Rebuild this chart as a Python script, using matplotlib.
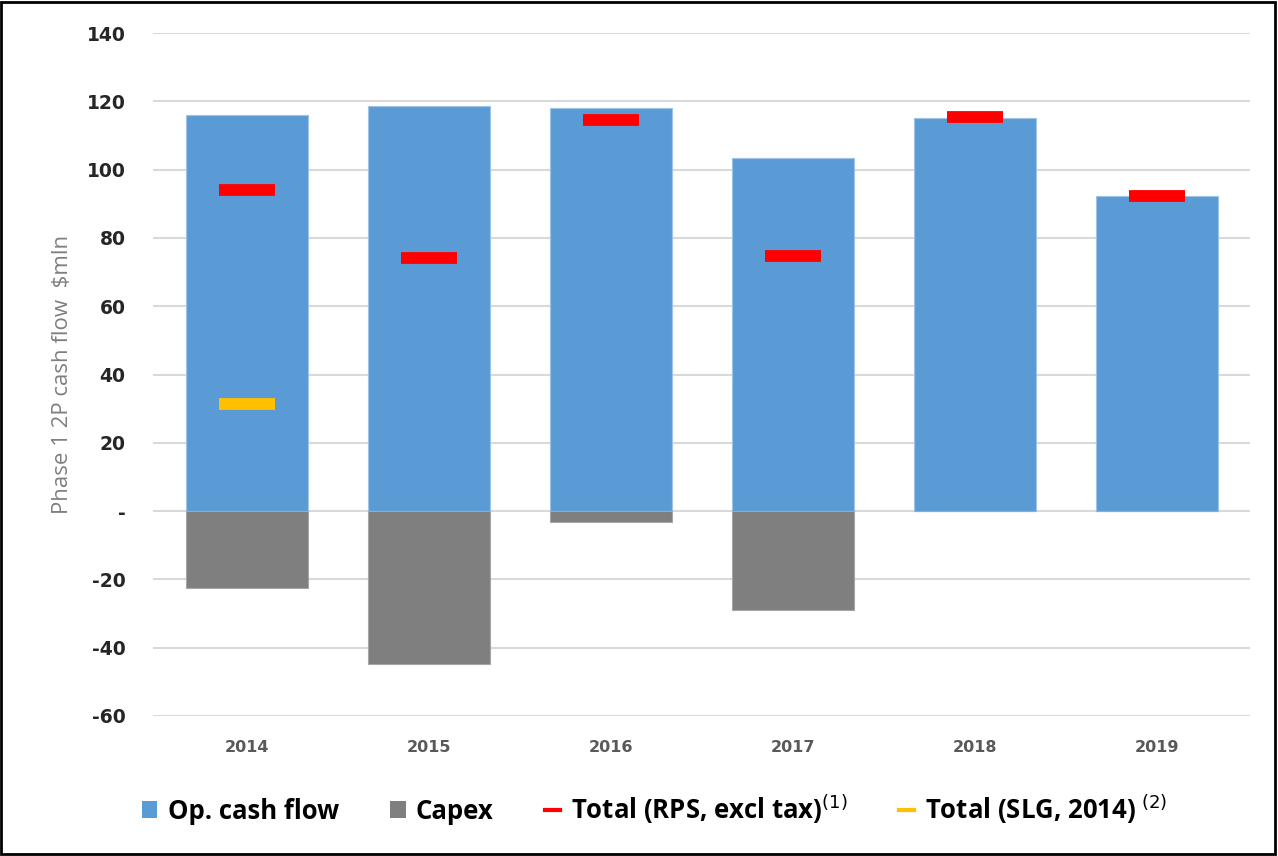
import numpy as np
import matplotlib
matplotlib.use('Agg')
from matplotlib import pyplot as plt
from matplotlib.lines import Line2D
from matplotlib.patches import Patch, Rectangle

years = ['2014', '2015', '2016', '2017', '2018', '2019']
op_cash_flow = [116.0, 118.6, 118.0, 103.4, 115.0, 92.2]
capex = [-22.5, -44.8, -3.2, -29.0, 0.0, 0.0]
total_rps = [94.0, 74.0, 114.5, 74.7, 115.4, 92.2]
total_slg = [31.3, None, None, None, None, None]
y_ticks = [-60, -40, -20, 0, 20, 40, 60, 80, 100, 120, 140]
y_tick_labels = ['-60', '-40', '-20', '-', '20', '40', '60', '80', '100', '120', '140']

blue = '#5b9bd5'
grey = '#7f7f7f'

fig = plt.figure(figsize=(12.78, 8.56), dpi=100)
ax = fig.add_axes([0.12, 0.1636, 0.858, 0.7978])

x = np.arange(len(years))
ax.bar(x, op_cash_flow, width=0.67, color=blue, edgecolor='#9dc3e6', linewidth=0.8, zorder=2)
ax.bar(x, capex, width=0.67, color=grey, edgecolor='#a6a6a6', linewidth=0.8, zorder=2)

# short thick dashes for the totals
ax.plot(x, total_rps, linestyle='none', marker='_', markersize=40, markeredgewidth=8.5,
        color='#ff0000', zorder=3)
slg = np.array([np.nan if v is None else v for v in total_slg], dtype=float)
ax.plot(x, slg, linestyle='none', marker='_', markersize=40, markeredgewidth=8.5,
        color='#ffc000', zorder=3)

ax.set_ylim(-60, 140)
ax.set_xlim(-0.516, len(years) - 0.49)
ax.set_yticks(y_ticks)
ax.set_yticklabels(y_tick_labels, fontsize=13.5, fontweight='bold', color='#262626')
ax.set_xticks(x)
ax.set_xticklabels(years, fontsize=11.5, fontweight='bold', color='#595959')
ax.tick_params(axis='both', length=0)
ax.tick_params(axis='y', pad=20)
ax.tick_params(axis='x', pad=17)
ax.grid(axis='y', color='#d9d9d9', linewidth=1.5, zorder=0)
ax.set_axisbelow(True)
for s in ax.spines.values():
    s.set_visible(False)

ax.set_ylabel('Phase 1 2P cash flow  $mln', fontsize=16, color='#7f7f7f',
              family=['Liberation Sans Narrow', 'Open Sans'], labelpad=10)

handles = [
    Patch(facecolor=blue),
    Patch(facecolor=grey),
    Line2D([], [], color='#ff0000', linewidth=3),
    Line2D([], [], color='#ffc000', linewidth=3),
]
labels = ['Op. cash flow', 'Capex', r'Total (RPS, excl tax)$^{(1)}$',
          r'Total (SLG, 2014)$^{\ (2)}$']
leg = fig.legend(handles, labels, loc='center', bbox_to_anchor=(0.512, 0.055), ncol=4,
                 frameon=False, handlelength=0.6, handleheight=0.6, handletextpad=0.4,
                 columnspacing=2.0,
                 prop={'family': 'Open Sans', 'weight': 'bold', 'size': 18.5})

# black frame around the whole figure
fig.patches.append(Rectangle((0.001, 0.002), 0.997, 0.996, transform=fig.transFigure,
                             fill=False, edgecolor='black', linewidth=2))

fig.savefig('out.png', dpi=100)
